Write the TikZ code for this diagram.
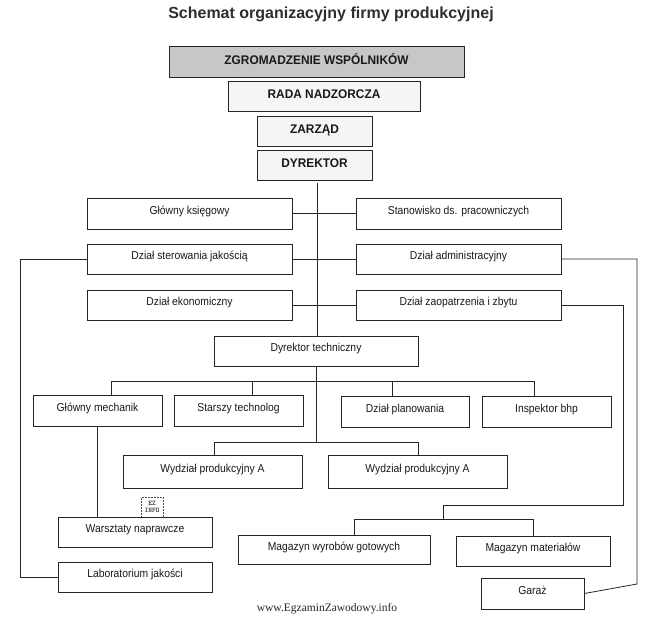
\documentclass[tikz,border=0pt]{standalone}
\usepackage{fontspec}
\setmainfont{Liberation Sans}
\newfontfamily\serifft{Liberation Serif}
\newfontfamily\boxft[FakeStretch=0.9]{Liberation Sans}
\newfontfamily\topft[FakeStretch=0.95]{Liberation Sans}
\newcommand\rt[1]{\raisebox{2pt}{#1}}
\begin{document}
\begin{tikzpicture}[x=1pt,y=-1pt,
  box/.style={draw=black!85, line width=0.7pt, inner sep=0pt, align=center,
    text height=8pt, text depth=2.5pt, text=black!90,
    font=\boxft\fontsize{11.5}{13}\selectfont},
  topbox/.style={box, fill=black!4, font=\topft\bfseries\fontsize{12.5}{14}\selectfont},
  conn/.style={draw=black!85, line width=0.8pt}]
\useasboundingbox (0,0) rectangle (652,616);
\fill[white] (0,0) rectangle (652,616);

\node[font=\bfseries\fontsize{16}{18}\selectfont, text=black!82] (title) at (331,14) {Schemat organizacyjny firmy produkcyjnej};

\node[topbox, fill=black!22, minimum width=295, minimum height=31] (zgr) at (316.5,61.5) {ZGROMADZENIE WSPÓLNIKÓW};
\node[topbox, minimum width=192, minimum height=30] (rada) at (324,96) {RADA NADZORCZA};
\node[topbox, minimum width=115, minimum height=30] (zar) at (314.5,131) {ZARZĄD};
\node[topbox, minimum width=115, minimum height=30] (dyr) at (314.5,165) {DYREKTOR};

\node[box, minimum width=205, minimum height=31] (gk) at (189.5,213.5) {\rt{Główny księgowy}};
\node[box, minimum width=205, minimum height=31] (sp) at (458.5,213.5) {\rt{Stanowisko ds. pracowniczych}};
\node[box, minimum width=205, minimum height=30] (dsj) at (189.5,259) {\rt{Dział sterowania jakością}};
\node[box, minimum width=205, minimum height=30] (da) at (458.5,259) {\rt{Dział administracyjny}};
\node[box, minimum width=205, minimum height=30] (de) at (189.5,305) {\rt{Dział ekonomiczny}};
\node[box, minimum width=205, minimum height=30] (dz) at (458.5,305) {\rt{Dział zaopatrzenia i zbytu}};

\node[box, minimum width=204, minimum height=30] (dt) at (316,351) {\rt{Dyrektor techniczny}};

\node[box, minimum width=129, minimum height=31] (gm) at (97.5,411) {\rt{Główny mechanik}};
\node[box, minimum width=129, minimum height=31] (st) at (238.5,411) {\rt{Starszy technolog}};
\node[box, minimum width=128, minimum height=31] (dp) at (405,411.5) {\rt{Dział planowania}};
\node[box, minimum width=129, minimum height=31] (ib) at (546.5,411.5) {\rt{Inspektor bhp}};

\node[box, minimum width=179, minimum height=33] (w1) at (212.5,471.5) {\rt{Wydział produkcyjny A}};
\node[box, minimum width=179, minimum height=33] (w2) at (417.5,471.5) {\rt{Wydział produkcyjny A}};

\node[draw=black!70, densely dotted, line width=0.5pt, minimum width=22, minimum height=20, inner sep=0pt, align=center, font=\ttfamily\fontsize{7}{7.5}\selectfont] (logo) at (152,507) {EZ\\INFO};

\node[box, minimum width=154, minimum height=30] (war) at (135,532) {\rt{Warsztaty naprawcze}};
\node[box, minimum width=154, minimum height=30] (lab) at (135,577) {\rt{Laboratorium jakości}};
\node[box, minimum width=192, minimum height=29] (mw) at (334,549.5) {\rt{Magazyn wyrobów gotowych}};
\node[box, minimum width=154, minimum height=30] (mm) at (533,551) {\rt{Magazyn materiałów}};
\node[box, minimum width=103, minimum height=31] (ga) at (532.5,593.5) {\rt{Garaż}};

\node[font=\serifft\fontsize{11.5}{13}\selectfont, text=black!85] (foot) at (327,609) {www.EgzaminZawodowy.info};

% connectors
\coordinate (t1) at (317,183);
\draw[conn] (t1) -- (t1 |- dt.north);
\draw[conn] (gk.east) -- (sp.west);
\draw[conn] (dsj.east) -- (da.west);
\draw[conn] (de.east) -- (dz.west);

\coordinate (lb) at (316,442);
\draw[conn] (dt.south) -- (lb);
\coordinate (b1) at (111,381);
\coordinate (b2) at (252,381);
\coordinate (b3) at (392,381);
\coordinate (b4) at (534,381);
\draw[conn] (b1) -- (b4);
\draw[conn] (b1) -- (b1 |- gm.north);
\draw[conn] (b2) -- (b2 |- st.north);
\draw[conn] (b3) -- (b3 |- dp.north);
\draw[conn] (b4) -- (b4 |- ib.north);

\coordinate (l1) at (214,442);
\coordinate (l2) at (418,442);
\draw[conn] (l1) -- (l2);
\draw[conn] (l1) -- (l1 |- w1.north);
\draw[conn] (l2) -- (l2 |- w2.north);

\draw[conn] (gm.south) -- (gm.south |- war.north);
\draw[conn] (dsj.west) -- (20,259) |- (lab.west);

\coordinate (mj) at (443,505);
\draw[conn] (dz.east) -| (623,505) -- (mj) -- (443,519);
\coordinate (m1) at (354,519);
\coordinate (m2) at (533,519);
\draw[conn] (m1) -- (m2);
\draw[conn] (m1) -- (m1 |- mw.north);
\draw[conn] (m2) -- (m2 |- mm.north);

\draw[conn] (da.east) -| (637,584) -- (ga.east);
\end{tikzpicture}
\end{document}
